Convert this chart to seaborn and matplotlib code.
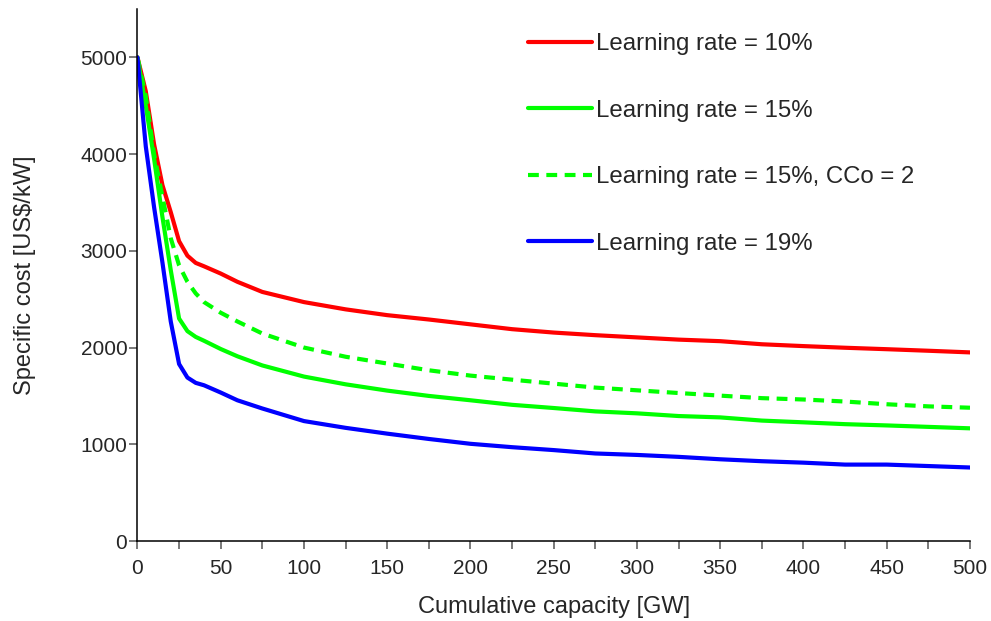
import pandas as pd
import seaborn as sns
import matplotlib.pyplot as plt
from matplotlib.ticker import MultipleLocator

sns.set_style("white")
plt.rcParams['font.family'] = ['Liberation Sans', 'DejaVu Sans']

# Данные
capacity = [0, 5, 10, 15, 20, 25, 30, 35, 40, 50, 60, 75, 100, 125, 150, 175,
            200, 225, 250, 275, 300, 325, 350, 375, 400, 425, 450, 475, 500]
cost_lr10 = [5000, 4650, 4100, 3680, 3400, 3100, 2950, 2875, 2840, 2765, 2680, 2575, 2470, 2395, 2335,
             2290, 2240, 2190, 2155, 2128, 2105, 2082, 2066, 2034, 2015, 1998, 1983, 1967, 1950]
cost_lr15 = [5000, 4500, 3950, 3350, 2800, 2300, 2170, 2110, 2070, 1985, 1910, 1815, 1700, 1620, 1555,
             1500, 1455, 1408, 1375, 1340, 1320, 1292, 1278, 1245, 1227, 1208, 1195, 1180, 1165]
cost_lr15_cco2 = [5000, 4600, 4000, 3560, 3130, 2850, 2680, 2560, 2470, 2360, 2270, 2145, 2000, 1905, 1835,
                  1765, 1710, 1668, 1627, 1586, 1558, 1530, 1503, 1477, 1463, 1442, 1414, 1392, 1378]
cost_lr19 = [5000, 4080, 3450, 2880, 2270, 1830, 1690, 1635, 1610, 1535, 1455, 1370, 1240, 1170, 1110,
             1055, 1005, 970, 940, 905, 890, 870, 845, 825, 810, 790, 790, 775, 760]

labels = ['Learning rate = 10%', 'Learning rate = 15%',
          'Learning rate = 15%, CCo = 2', 'Learning rate = 19%']

df = pd.DataFrame({
    'capacity': capacity,
    labels[0]: cost_lr10,
    labels[1]: cost_lr15,
    labels[2]: cost_lr15_cco2,
    labels[3]: cost_lr19,
})

fig = plt.figure(figsize=(9.91, 6.21), dpi=100)
ax = fig.add_axes([0.1387, 0.1288, 0.8401, 0.8567])

styles = [('#ff0000', '-'), ('#00ff00', '-'), ('#00ff00', (0, (2.6, 1.8))), ('#0000ff', '-')]
for lab, (col, ls) in zip(labels, styles):
    sns.lineplot(data=df, x='capacity', y=lab, ax=ax, color=col, linestyle=ls,
                 linewidth=3, label=lab, estimator=None)

ax.set_xlim(0, 500)
ax.set_ylim(0, 5500)
ax.set_yticks(range(0, 5001, 1000))
ax.xaxis.set_major_locator(MultipleLocator(50))
ax.xaxis.set_minor_locator(MultipleLocator(25))

for s in ['top', 'right']:
    ax.spines[s].set_visible(False)
for s in ['left', 'bottom']:
    ax.spines[s].set_color('black')
    ax.spines[s].set_linewidth(1.1)

ax.tick_params(axis='both', which='both', direction='out', length=5.8, width=1.1,
               color='#555555', labelsize=15)
ax.tick_params(axis='x', which='both', bottom=True, pad=7)
ax.tick_params(axis='y', left=True, pad=1.5)

ax.set_xlabel('Cumulative capacity [GW]', fontsize=17)
ax.set_ylabel('Specific cost [US$/kW]', fontsize=17)
ax.xaxis.set_label_coords(0.5, -0.103)
ax.yaxis.set_label_coords(-0.122, 0.5)

ax.legend(loc='upper left', bbox_to_anchor=(0.523, 0.962), bbox_transform=fig.transFigure,
          frameon=False, fontsize=17.3, handlelength=2.65, handletextpad=0.17,
          labelspacing=1.85, borderaxespad=0)

fig.savefig('out.png', dpi=100)
